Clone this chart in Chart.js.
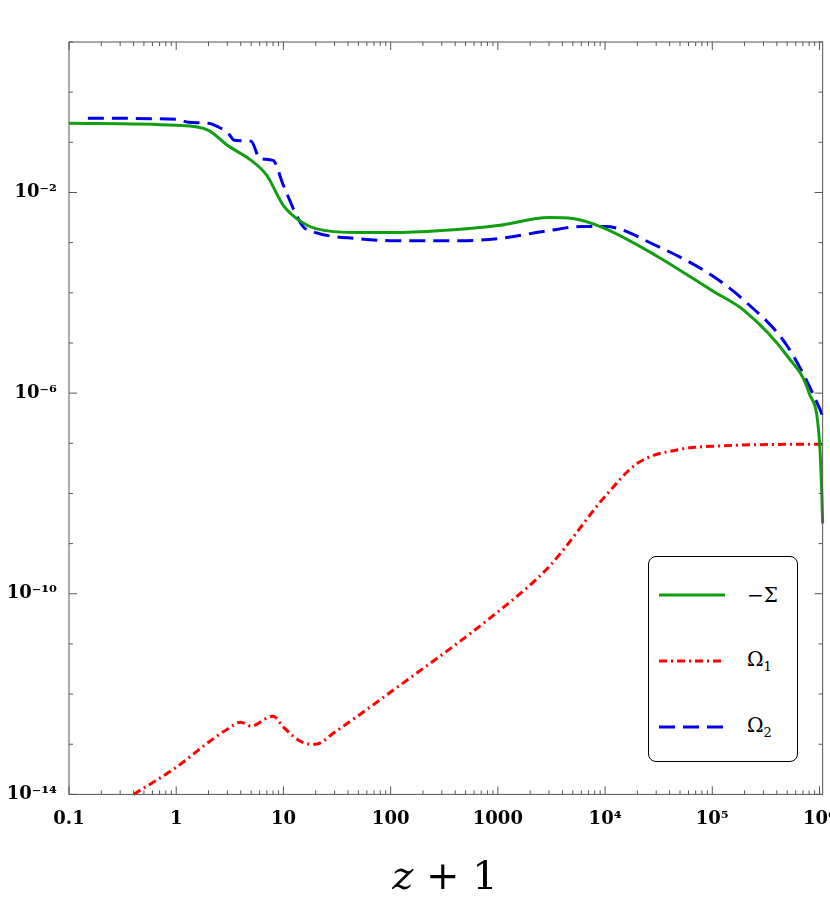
<!DOCTYPE html>
<html>
<head>
<meta charset="utf-8">
<script src="https://cdn.jsdelivr.net/npm/chart.js@4/dist/chart.umd.min.js"></script>
<style>
  body { margin: 0; background: #fff; overflow: hidden; }
  #wrap { position: relative; width: 830px; height: 918px; overflow: hidden; }
  #legend {
    position: absolute; left: 648px; top: 556px; width: 148px; height: 204px;
    border: 1.5px solid #000; border-radius: 8px; background: #fff;
    font-family: 'DejaVu Serif', serif; font-size: 20px;
  }
  .row { position: absolute; left: 10px; display: flex; align-items: center; }
  .row svg { margin-right: 22px; }
  #xtitle {
    position: absolute; left: 0; width: 890px; top: 852px; text-align: center;
    font-family: 'DejaVu Serif', serif; font-size: 40px;
  }
</style>
</head>
<body>
<div id="wrap">
  <canvas id="c" width="842" height="918"></canvas>
  <div id="legend">
    <div class="row" style="top:26px"><svg width="66" height="6"><line x1="0" y1="3" x2="66" y2="3" stroke="#119e11" stroke-width="3"/></svg><span>&minus;&Sigma;</span></div>
    <div class="row" style="top:90px"><svg width="66" height="6"><line x1="0" y1="3" x2="66" y2="3" stroke="#ff0000" stroke-width="3" stroke-dasharray="8 4 2 4"/></svg><span>&Omega;<sub style="font-size:13px">1</sub></span></div>
    <div class="row" style="top:156px"><svg width="66" height="6"><line x1="0" y1="3" x2="66" y2="3" stroke="#0000ee" stroke-width="3" stroke-dasharray="16 8"/></svg><span>&Omega;<sub style="font-size:13px">2</sub></span></div>
  </div>
  <div id="xtitle"><i>z</i> + 1</div>
</div>
<script>
const sigmaX = [0.1, 1, 2, 3, 5, 7, 10, 15, 20, 50, 100, 300, 1000, 3000, 5000, 1e4, 3e4, 1e5, 2e5, 5e5, 8e5, 1e6, 1.05e6, 1.07e6]
const sigmaLog = [-0.62, -0.66, -0.76, -1.06, -1.36, -1.66, -2.26, -2.6, -2.72, -2.8, -2.8, -2.76, -2.66, -2.5, -2.52, -2.72, -3.26, -3.96, -4.36, -5.26, -6.0, -6.96, -8.0, -8.6]

const omega2X = [0.15, 1, 1.3, 2, 2.5, 3, 3.5, 5, 6, 8, 10, 15, 20, 50, 100, 500, 1000, 3000, 6000, 1e4, 3e4, 1e5, 2e5, 5e5, 1e6, 1.07e6]
const omega2Log = [-0.52, -0.54, -0.6, -0.62, -0.7, -0.8, -0.96, -0.98, -1.32, -1.36, -1.86, -2.66, -2.8, -2.92, -2.96, -2.96, -2.92, -2.76, -2.68, -2.68, -3.06, -3.66, -4.16, -5.06, -6.3, -6.46]

const omega1X = [0.4, 1, 2, 3, 4, 5, 7, 8, 10, 15, 20, 30, 100, 1000, 3000, 1e4, 2e4, 5e4, 1e5, 1e6, 1.07e6]
const omega1Log = [-14, -13.46, -12.96, -12.7, -12.56, -12.64, -12.48, -12.44, -12.66, -12.96, -13.0, -12.76, -11.96, -10.36, -9.46, -8.06, -7.4, -7.12, -7.06, -7.02, -7.02]

const xTicks = [0.1, 1, 10, 100, 1000, 1e4, 1e5, 1e6]
const yTicks = [1e-2, 1e-6, 1e-10, 1e-14]

function pts(xs, logs) {
  return xs.map((x, i) => ({ x, y: Math.pow(10, logs[i]) }))
}

const sup = { '-': '\u207b', '0': '\u2070', '1': '\u00b9', '2': '\u00b2', '4': '\u2074', '5': '\u2075', '6': '\u2076' }
function xLabel(v) {
  if (v < 1e4) return String(v)
  return '10' + String(Math.round(Math.log10(v))).split('').map((c) => sup[c]).join('')
}
function yLabel(v) {
  return '10' + String(Math.round(Math.log10(v))).split('').map((c) => sup[c]).join('')
}

const tickPlugin = {
  id: 'innerTicks',
  afterDraw(chart) {
    const { ctx, chartArea: a, scales } = chart
    ctx.save()
    ctx.strokeStyle = '#555'
    ctx.lineWidth = 1
    ctx.strokeRect(a.left, a.top, a.right - a.left, a.bottom - a.top)
    for (let e = -1; e <= 6; e++) {
      for (let m = 1; m <= 9; m++) {
        const v = m * Math.pow(10, e)
        if (v > scales.x.max) continue
        const px = scales.x.getPixelForValue(v)
        const len = m === 1 ? 8 : 4
        ctx.beginPath()
        ctx.moveTo(px, a.bottom); ctx.lineTo(px, a.bottom - len)
        ctx.moveTo(px, a.top); ctx.lineTo(px, a.top + len)
        ctx.stroke()
      }
    }
    for (let e = -14; e <= 1; e++) {
      const py = scales.y.getPixelForValue(Math.pow(10, e))
      const len = (e + 14) % 4 === 0 ? 8 : 4
      ctx.beginPath()
      ctx.moveTo(a.left, py); ctx.lineTo(a.left + len, py)
      ctx.moveTo(a.right, py); ctx.lineTo(a.right - len, py)
      ctx.stroke()
    }
    ctx.restore()
  },
}

new Chart(document.getElementById('c'), {
  type: 'line',
  data: {
    datasets: [
      { data: pts(sigmaX, sigmaLog), borderColor: '#119e11', borderWidth: 3, cubicInterpolationMode: 'monotone', pointRadius: 0 },
      { data: pts(omega1X, omega1Log), borderColor: '#ff0000', borderWidth: 3, borderDash: [8, 4, 2, 4], cubicInterpolationMode: 'monotone', pointRadius: 0 },
      { data: pts(omega2X, omega2Log), borderColor: '#0000ee', borderWidth: 3, borderDash: [16, 8], cubicInterpolationMode: 'monotone', pointRadius: 0 },
    ],
  },
  options: {
    responsive: false,
    animation: false,
    clip: false,
    layout: { padding: { left: 0, right: 8, top: 42, bottom: 82 } },
    plugins: { legend: { display: false }, tooltip: { enabled: false } },
    scales: {
      x: {
        type: 'logarithmic',
        min: 0.1,
        max: 1.07e6,
        afterBuildTicks: (s) => { s.ticks = xTicks.map((v) => ({ value: v })) },
        ticks: { color: '#000', font: { family: 'DejaVu Serif', size: 18, weight: 'bold' }, padding: 6, callback: xLabel, maxRotation: 0 },
        grid: { display: false },
        border: { display: false },
      },
      y: {
        type: 'logarithmic',
        min: 1e-14,
        max: 10,
        afterFit: (s) => { s.width = 69 },
        afterBuildTicks: (s) => { s.ticks = yTicks.map((v) => ({ value: v })) },
        ticks: { color: '#000', font: { family: 'DejaVu Serif', size: 18, weight: 'bold' }, padding: 4, callback: yLabel },
        grid: { display: false },
        border: { display: false },
      },
    },
  },
  plugins: [tickPlugin],
})
</script>
</body>
</html>
